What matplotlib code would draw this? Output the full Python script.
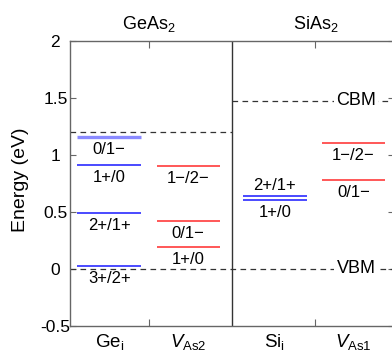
import matplotlib
matplotlib.use('Agg')
import matplotlib.pyplot as plt

plt.rcParams['font.family'] = ['Liberation Sans', 'DejaVu Sans']
plt.rcParams['mathtext.fontset'] = 'custom'
plt.rcParams['mathtext.rm'] = 'Liberation Sans'
plt.rcParams['mathtext.it'] = 'Liberation Sans:italic'
plt.rcParams['mathtext.default'] = 'regular'

# ---- data ----
groups = ['Ge$_{i}$', '$\\mathit{V}_{\\mathrm{As2}}$', 'Si$_{i}$', '$\\mathit{V}_{\\mathrm{As1}}$']
hosts = ['GeAs$_2$', 'SiAs$_2$']
ge_i_levels = [1.154, 0.913, 0.489, 0.026]
ge_i_labels = ['0/1\u2212', '1+/0', '2+/1+', '3+/2+']
v_as2_levels = [0.899, 0.421, 0.187]
v_as2_labels = ['1\u2212/2\u2212', '0/1\u2212', '1+/0']
si_i_levels = [0.640, 0.603]
si_i_labels = ['2+/1+', '1+/0']
v_as1_levels = [1.100, 0.778]
v_as1_labels = ['1\u2212/2\u2212', '0/1\u2212']
cbm_levels = [1.200, 1.473]
vbm_level = 0.0
yticks = [-0.5, 0, 0.5, 1, 1.5, 2]
ytick_labels = ['-0.5', '0', '0.5', '1', '1.5', '2']

# ---- layout ----
spans = [(0.09, 0.88), (1.07, 1.85), (2.14, 2.92), (3.11, 3.89)]
centers = [(a + b) / 2 for a, b in spans]
host_ticks = [0.97, 3.03]
blue = '#3b3bff'
light_blue = '#8a8aff'
red = '#ff3b3b'

fig = plt.figure(figsize=(3.92, 3.5), dpi=100)
ax = fig.add_axes([70 / 392, 24.5 / 350, 324 / 392, 284.5 / 350])
ax.set_xlim(0, 4)
ax.set_ylim(-0.5, 2)

for s in ax.spines.values():
    s.set_color('#666666')
    s.set_linewidth(1.0)

dash = (0, (4.5, 3.5))
ax.hlines(cbm_levels[0], 0, 2, colors='#333333', linestyles=dash, lw=0.9)
ax.hlines(cbm_levels[1], 2, 4, colors='#333333', linestyles=dash, lw=0.9)
ax.hlines(vbm_level, 0, 4, colors='#333333', linestyles=dash, lw=0.9)
ax.axvline(2.0, color='#333333', lw=1.0)

ax.text(3.53, cbm_levels[1], 'CBM', ha='center', va='center', fontsize=13,
        bbox=dict(facecolor='white', edgecolor='none', pad=1.5))
ax.text(3.53, vbm_level, 'VBM', ha='center', va='center', fontsize=13,
        bbox=dict(facecolor='white', edgecolor='none', pad=1.5))

def draw(levels, labels, span, color, offsets, widths):
    c = (span[0] + span[1]) / 2
    for lv, lb, off, w, col in zip(levels, labels, offsets, widths, color):
        ax.hlines(lv, span[0], span[1], colors=col, lw=w)
        ax.annotate(lb, xy=(c, lv), xytext=(0, off), textcoords='offset pixels',
                    ha='center', va='center', fontsize=12)

draw(ge_i_levels, ge_i_labels, spans[0], [light_blue, blue, blue, blue],
     [-12.5] * 4, [2.4, 1.3, 1.3, 1.3])
draw(v_as2_levels, v_as2_labels, spans[1], [red] * 3, [-12.5] * 3, [1.2] * 3)
draw(si_i_levels, si_i_labels, spans[2], [blue, blue], [10, -12.5], [1.3, 1.3])
draw(v_as1_levels, v_as1_labels, spans[3], [red] * 2, [-12.5] * 2, [1.2] * 2)

ax.set_yticks(yticks)
ax.set_yticklabels(ytick_labels)
ax.tick_params(axis='y', direction='in', length=4, right=True, labelsize=12.5,
               pad=10.5, color='#666666')
for t in ax.get_yticklabels():
    t.set_horizontalalignment('center')

ax.set_xticks(host_ticks)
ax.set_xticklabels([])
ax.tick_params(axis='x', which='major', direction='in', length=5, color='#666666')
ax.set_xticks(centers, minor=True)
ax.set_xticklabels(groups, minor=True)
ax.tick_params(axis='x', which='minor', length=0, labelsize=13.5, pad=5)

ax2 = ax.twiny()
ax2.set_xlim(0, 4)
ax2.set_xticks(host_ticks)
ax2.set_xticklabels(hosts)
ax2.tick_params(axis='x', direction='in', length=5, labelsize=13, pad=5, color='#666666')
for s in ax2.spines.values():
    s.set_visible(False)

ax.set_ylabel('Energy (eV)', fontsize=14)
ax.yaxis.set_label_coords(-(70 - 29) / 324, (325.5 - 180) / 284.5)

fig.savefig('out.png', dpi=100)
